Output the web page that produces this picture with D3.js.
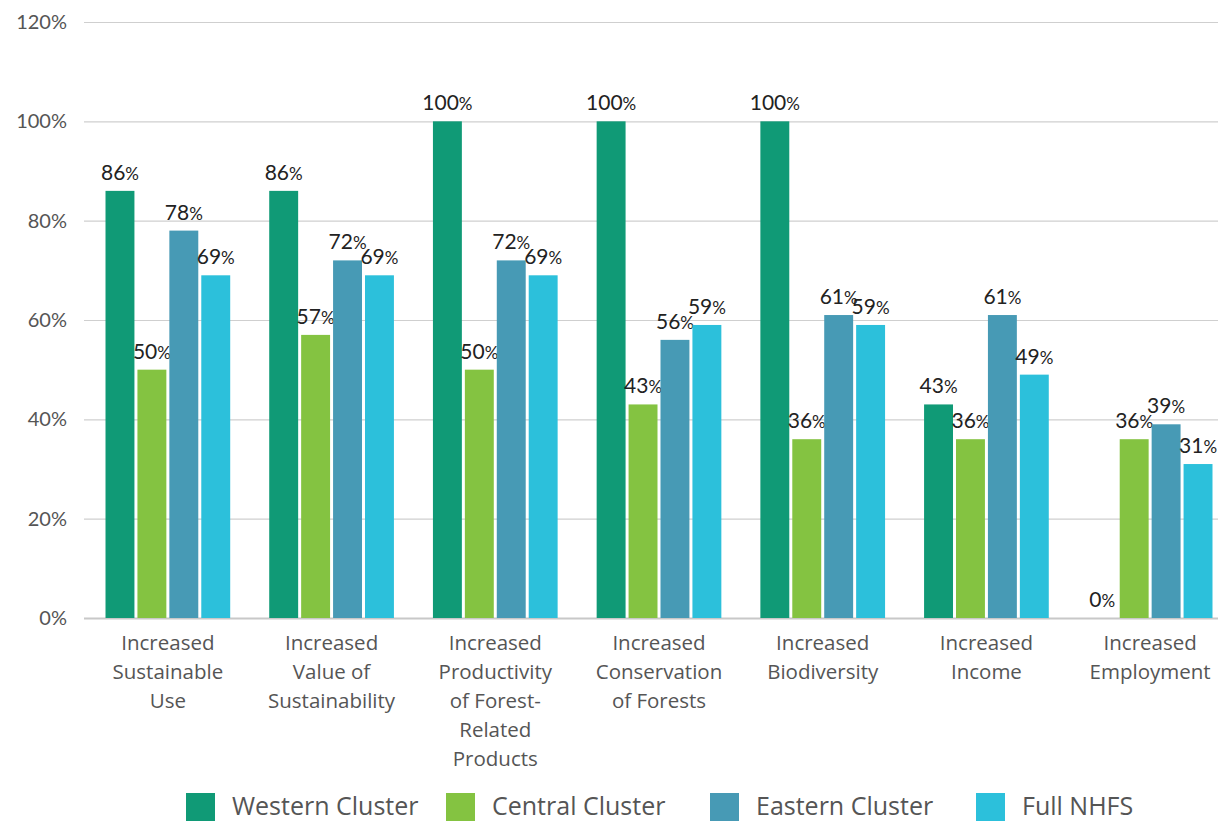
<!DOCTYPE html>
<html><head><meta charset="utf-8">
<script src="https://cdn.jsdelivr.net/npm/d3@7"></script>
<style>body{margin:0;background:#fff}</style>
</head><body><svg id="c" width="1218" height="821"></svg>
<script>
const categories = [
  ["Increased","Sustainable","Use"],
  ["Increased","Value of","Sustainability"],
  ["Increased","Productivity","of Forest-","Related","Products"],
  ["Increased","Conservation","of Forests"],
  ["Increased","Biodiversity"],
  ["Increased","Income"],
  ["Increased","Employment"]
];
const seriesNames = ["Western Cluster","Central Cluster","Eastern Cluster","Full NHFS"];
const western = [86,86,100,100,100,43,0];
const central = [50,57,50,43,36,36,36];
const eastern = [78,72,72,56,61,61,39];
const fullNHFS = [69,69,69,59,59,49,31];
const colors = ["#109a76","#84c341","#479ab5","#2cc0db"];
const yTicks = [0,20,40,60,80,100,120];

const series = [western, central, eastern, fullNHFS];
const svg = d3.select("#c");
const y = d3.scaleLinear().domain([0,120]).range([618,22]);
const x0 = d3.scaleBand().domain(d3.range(categories.length)).range([86,1232]).paddingInner(0.22).paddingOuter(0.11);
const x1 = d3.scaleBand().domain(d3.range(series.length)).range([0,x0.bandwidth()]).padding(0);

// grid
svg.append("g").selectAll("line").data(yTicks).join("line")
  .attr("x1",84).attr("x2",1218).attr("y1",d=>y(d)+0.5).attr("y2",d=>y(d)+0.5)
  .attr("stroke",d=>d===0?"#c8c8c8":"#cfcfcf").attr("stroke-width",d=>d===0?2:1.2);
svg.append("g").selectAll("text").data(yTicks).join("text")
  .attr("x",67).attr("y",d=>y(d)+7).attr("text-anchor","end")
  .attr("font-family","Lato").attr("font-size",20).attr("fill","#555")
  .text(d=>d+"%");

// bars
const g = svg.append("g");
series.forEach((vals,si)=>{
  g.append("g").selectAll("rect").data(vals).join("rect")
    .attr("x",(d,i)=>x0(i)+x1(si)+1.5)
    .attr("width",x1.bandwidth()-3)
    .attr("y",d=>y(d))
    .attr("height",d=>y(0)-y(d))
    .attr("fill",colors[si]);
  const t = g.append("g").selectAll("text").data(vals).join("text")
    .attr("x",(d,i)=>x0(i)+x1(si)+x1.bandwidth()/2)
    .attr("y",d=>y(d)-11)
    .attr("text-anchor","middle")
    .attr("font-family","Lato").attr("fill","#222");
  t.append("tspan").attr("font-size",21).text(d=>d);
  t.append("tspan").attr("font-size",17).text("%");
});

// category labels
categories.forEach((lines,i)=>{
  const t = svg.append("text").attr("text-anchor","middle")
    .attr("font-family","Open Sans").attr("font-size",20.5).attr("fill","#555");
  lines.forEach((l,j)=>{
    t.append("tspan").attr("x",x0(i)+x0.bandwidth()/2).attr("y",650+j*29).text(l);
  });
});

// legend
const legX = [186,446,710,976];
seriesNames.forEach((n,i)=>{
  svg.append("rect").attr("x",legX[i]).attr("y",793).attr("width",29).attr("height",28).attr("fill",colors[i]);
  svg.append("text").attr("x",legX[i]+46).attr("y",815).attr("font-family","Open Sans")
    .attr("font-size",25).attr("fill","#555").text(n);
});
</script></body></html>
